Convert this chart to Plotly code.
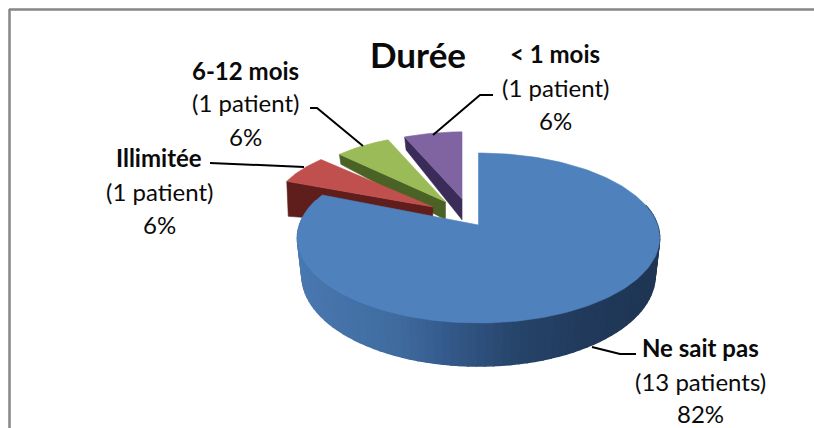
import numpy as np
import plotly.graph_objects as go

# --- data ---
categories = ["Ne sait pas", "Illimitée", "6-12 mois", "< 1 mois"]
patients = [13, 1, 1, 1]
patient_labels = ["(13 patients)", "(1 patient)", "(1 patient)", "(1 patient)"]
percent_labels = ["82%", "6%", "6%", "6%"]
title = "Durée"

top_colors = ["#4f81bd", "#c0504d", "#9bbb59", "#8064a2"]
side_colors = ["#2f5380", "#5f1d1c", "#4b6226", "#3b2b58"]

W, H = 814, 428
FONT = "Lato"

# cumulative clockwise angles from the top
total = sum(patients)
edges = np.cumsum([0] + patients) / total * 2 * np.pi

fig = go.Figure()


def poly(x, y, color, lw=0.6):
    fig.add_trace(go.Scatter(x=list(x), y=list(y), mode="lines", fill="toself",
                             fillcolor=color, line=dict(color=color, width=lw),
                             hoverinfo="skip", showlegend=False))


def hex2rgb(h):
    return np.array([int(h[i:i + 2], 16) for i in (1, 3, 5)], float)


# main slice projection (perspective disc)
CX, CY, R, RY, P = 478.5, 225, 179, 83, 0.153


def proj(t):
    u, v = np.sin(t), np.cos(t)
    s = 1 / (1 + P * v)
    return CX + R * u * s, CY - RY * v * s, s


# exploded small slices
BX, BY, DX, DY, RY2 = 471, 217.5, 46, 19, 67
slice_rx = {1: 158, 2: 150, 3: 150}
# depth of the cut face: at the outer corner, at the apex
face_depth = {1: (35, 20), 2: (10, 18), 3: (13, 21)}

for i in [3, 2, 1]:
    a0, a1 = edges[i], edges[i + 1]
    mid = (a0 + a1) / 2
    ax, ay = BX + DX * np.sin(mid), BY - DY * np.cos(mid)
    t = np.linspace(a0, a1, 30)
    ox, oy = ax + slice_rx[i] * np.sin(t), ay - RY2 * np.cos(t)
    dc, da = face_depth[i]
    # cut face seen from the front-left
    poly([ox[0], ax, ax, ox[0] + 1.5, ox[0]],
         [oy[0], ay, ay + da, oy[0] + dc, oy[0]], side_colors[i])
    poly(np.r_[ax, ox, ax], np.r_[ay, oy, ay], top_colors[i])

# main slice outer wall: gradient strips
a0, a1 = edges[0], edges[1]
stops_x = [298, 400, 450, 520, 600, 660]
stops_c = ["#4a78b0", "#3f6b9f", "#34598a", "#264469", "#21395a", "#1f3654"]
stops_rgb = np.array([hex2rgb(c) for c in stops_c])
ts = np.linspace(np.pi * 0.42, np.pi * 1.6, 90)
px, py, ps = proj(ts)
depth = 36.5 * ps
qx = CX + (px - CX) * 0.975
qy = py + depth
for k in range(len(ts) - 1):
    xm = (px[k] + px[k + 1]) / 2
    rgb = [np.interp(xm, stops_x, stops_rgb[:, j]) for j in range(3)]
    col = "rgb(%d,%d,%d)" % tuple(rgb)
    poly([px[k], px[k + 1], qx[k + 1], qx[k], px[k]],
         [py[k], py[k + 1], qy[k + 1], qy[k], py[k]], col, lw=1.5)

# main slice top
t = np.linspace(a0, a1, 200)
tx, ty, _ = proj(t)
poly(np.r_[CX, tx, CX], np.r_[CY, ty, CY], top_colors[0])

# leader lines
leaders = [
    ([636, 620, 592], [354, 354, 347]),
    ([210, 304], [163, 167]),
    ([310, 317, 363], [108, 108, 146]),
    ([493, 480, 433], [95, 95, 135]),
]
for lx, ly in leaders:
    fig.add_trace(go.Scatter(x=lx, y=ly, mode="lines", line=dict(color="black", width=2),
                             hoverinfo="skip", showlegend=False))

# labels: one text per line
label_x = [700, 159, 245, 555]
label_y = [(347, 381, 413), (157, 191, 224), (70, 102, 136), (53, 87, 120)]
ann = []
for i in range(4):
    lines = ["<b>%s</b>" % categories[i], patient_labels[i], percent_labels[i]]
    for txt, y in zip(lines, label_y[i]):
        ann.append(dict(x=label_x[i], y=y, text=txt, showarrow=False, xanchor="center",
                        yanchor="middle", font=dict(family=FONT, size=24, color="#0a0a0a")))
ann.append(dict(x=418, y=54, text="<b>%s</b>" % title, showarrow=False, xanchor="center",
                yanchor="middle", font=dict(family=FONT, size=35, color="#0a0a0a")))

# chart frame (left and top edges)
shapes = [
    dict(type="line", x0=9.5, x1=9.5, y0=9, y1=H, line=dict(color="#868686", width=2.5)),
    dict(type="line", x0=9, x1=W, y0=9.5, y1=9.5, line=dict(color="#868686", width=2.5)),
]

fig.update_layout(
    width=W, height=H, margin=dict(l=0, r=0, t=0, b=0),
    paper_bgcolor="white", plot_bgcolor="white", showlegend=False,
    xaxis=dict(range=[0, W], visible=False, fixedrange=True),
    yaxis=dict(range=[H, 0], visible=False, fixedrange=True),
    annotations=ann, shapes=shapes,
)
fig.write_html("out.html", config={"displayModeBar": False},
               post_script="document.body.style.margin='0';document.body.style.overflow='hidden';")
